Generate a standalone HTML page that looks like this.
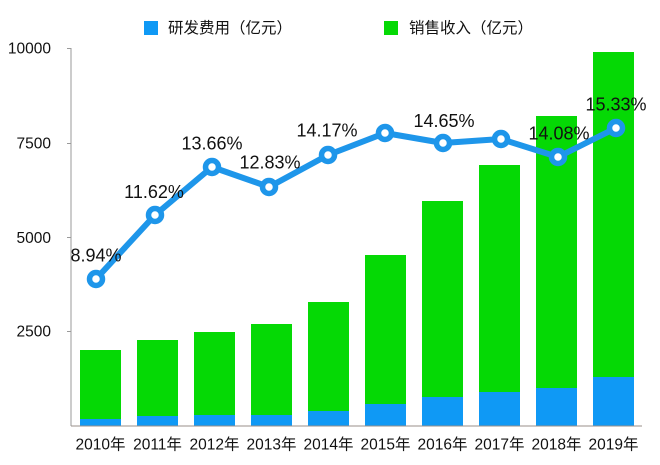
<!DOCTYPE html>
<html>
<head>
<meta charset="utf-8">
<style>
html,body{margin:0;padding:0;background:#fff;}
svg{display:block;}
text{font-family:"Liberation Sans","Noto Sans CJK SC",sans-serif;fill:#111;}
</style>
</head>
<body>
<svg width="660" height="465" viewBox="0 0 660 465" xmlns="http://www.w3.org/2000/svg">
  <!-- legend -->
  <rect x="144" y="21" width="14" height="14" fill="#0f99f5"/>
  <text x="168" y="33" font-size="15.5">研发费用（亿元）</text>
  <rect x="384" y="21" width="14" height="14" fill="#05d905"/>
  <text x="409" y="33" font-size="15.5">销售收入（亿元）</text>

  <!-- y axis labels -->
  <g font-size="15.5" text-anchor="end">
    <text x="51" y="53.5">10000</text>
    <text x="51" y="148.5">7500</text>
    <text x="51" y="243">5000</text>
    <text x="51" y="336.5">2500</text>
  </g>

  <!-- bars -->
  <g>
    <rect x="80" y="350" width="41" height="76" fill="#05d905"/>
    <rect x="80" y="419" width="41" height="7" fill="#0f99f5"/>
    <rect x="137" y="340" width="41" height="86" fill="#05d905"/>
    <rect x="137" y="416" width="41" height="10" fill="#0f99f5"/>
    <rect x="194" y="332" width="41" height="94" fill="#05d905"/>
    <rect x="194" y="415" width="41" height="11" fill="#0f99f5"/>
    <rect x="251" y="324" width="41" height="102" fill="#05d905"/>
    <rect x="251" y="415" width="41" height="11" fill="#0f99f5"/>
    <rect x="308" y="302" width="41" height="124" fill="#05d905"/>
    <rect x="308" y="411" width="41" height="15" fill="#0f99f5"/>
    <rect x="365" y="255" width="41" height="171" fill="#05d905"/>
    <rect x="365" y="404" width="41" height="22" fill="#0f99f5"/>
    <rect x="422" y="201" width="41" height="225" fill="#05d905"/>
    <rect x="422" y="397" width="41" height="29" fill="#0f99f5"/>
    <rect x="479" y="165" width="41" height="261" fill="#05d905"/>
    <rect x="479" y="392" width="41" height="34" fill="#0f99f5"/>
    <rect x="536" y="116" width="41" height="310" fill="#05d905"/>
    <rect x="536" y="388" width="41" height="38" fill="#0f99f5"/>
    <rect x="593" y="52" width="41" height="374" fill="#05d905"/>
    <rect x="593" y="377" width="41" height="49" fill="#0f99f5"/>
  </g>

  <!-- axes -->
  <line x1="71" y1="48" x2="71" y2="426" stroke="#9a9a9a" stroke-width="1"/>
  <line x1="71" y1="426" x2="642" y2="426" stroke="#9a8f8a" stroke-width="1"/>
  <g stroke="#9a9a9a" stroke-width="1">
    <line x1="67" y1="48.5" x2="71" y2="48.5"/>
    <line x1="67" y1="143.5" x2="71" y2="143.5"/>
    <line x1="67" y1="237.5" x2="71" y2="237.5"/>
    <line x1="67" y1="331.5" x2="71" y2="331.5"/>
  </g>

  <!-- x labels -->
  <g font-size="15.5" text-anchor="middle">
    <text x="100.5" y="449.5">2010年</text>
    <text x="157.5" y="449.5">2011年</text>
    <text x="214.5" y="449.5">2012年</text>
    <text x="271.5" y="449.5">2013年</text>
    <text x="328.5" y="449.5">2014年</text>
    <text x="385.5" y="449.5">2015年</text>
    <text x="442.5" y="449.5">2016年</text>
    <text x="499.5" y="449.5">2017年</text>
    <text x="556.5" y="449.5">2018年</text>
    <text x="613.5" y="449.5">2019年</text>
  </g>

  <!-- line -->
  <polyline points="96,279 155,215 212,167 269,187 328,155 385,133 443,143 501,139 558,157 616,128"
    fill="none" stroke="#1e96ea" stroke-width="6" stroke-linejoin="round" stroke-linecap="round"/>
  <g fill="#fff" stroke="#1e96ea" stroke-width="5.5">
    <circle cx="96" cy="279" r="6.5"/>
    <circle cx="155" cy="215" r="6.5"/>
    <circle cx="212" cy="167" r="6.5"/>
    <circle cx="269" cy="187" r="6.5"/>
    <circle cx="328" cy="155" r="6.5"/>
    <circle cx="385" cy="133" r="6.5"/>
    <circle cx="443" cy="143" r="6.5"/>
    <circle cx="501" cy="139" r="6.5"/>
    <circle cx="558" cy="157" r="6.5"/>
    <circle cx="616" cy="128" r="6.5"/>
  </g>

  <!-- value labels -->
  <g font-size="18" text-anchor="middle">
    <text x="96" y="261.5">8.94%</text>
    <text x="154" y="198">11.62%</text>
    <text x="212" y="149.5">13.66%</text>
    <text x="270" y="168.5">12.83%</text>
    <text x="327" y="136.5">14.17%</text>
    <text x="444" y="127">14.65%</text>
    <text x="559" y="139.5">14.08%</text>
    <text x="616" y="110.5">15.33%</text>
  </g>
</svg>
</body>
</html>
